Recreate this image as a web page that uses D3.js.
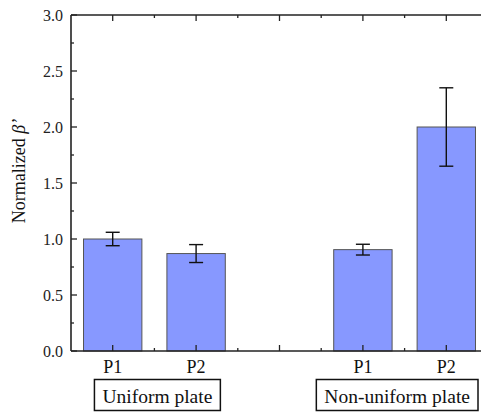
<!DOCTYPE html>
<html>
<head>
<meta charset="utf-8">
<script src="https://cdn.jsdelivr.net/npm/d3@7/dist/d3.min.js"></script>
<style>
  html, body { margin: 0; padding: 0; background: #fff; }
  svg text { font-family: "Liberation Serif", "DejaVu Serif", serif; }
</style>
</head>
<body>
<svg id="chart" width="481" height="412"></svg>
<script>
// Bar positions on the category axis (gap at 3 separates the two plates)
const positions = [1, 2, 4, 5];
const categories = ["P1", "P2", "P1", "P2"];
const values = [1.00, 0.87, 0.905, 2.00];
const errors = [0.06, 0.08, 0.048, 0.35];
const groups = ["Uniform plate", "Non-uniform plate"];
const groupMembers = [[1, 2], [4, 5]];
const yTicks = [0, 0.5, 1.0, 1.5, 2.0, 2.5, 3.0];

const W = 481, H = 412;
const svg = d3.select("#chart");

const x = d3.scaleLinear().domain([0.5, 5.5]).range([71, 488]);
const y = d3.scaleLinear().domain([0, 3]).range([351, 15]);

const barW = (x(1) - x(0)) * 0.7;
const axisColor = "#222";

// Bars
svg.append("g").selectAll("rect")
  .data(positions)
  .join("rect")
  .attr("x", (d) => x(d) - barW / 2)
  .attr("y", (d, i) => y(values[i]))
  .attr("width", barW)
  .attr("height", (d, i) => y(0) - y(values[i]))
  .attr("fill", "#8798ff")
  .attr("stroke", "#555")
  .attr("stroke-width", 1);

// Error bars
const eb = svg.append("g").attr("stroke", "#111").attr("stroke-width", 1.4);
positions.forEach((p, i) => {
  const cx = x(p), lo = y(values[i] - errors[i]), hi = y(values[i] + errors[i]);
  eb.append("line").attr("x1", cx).attr("x2", cx).attr("y1", lo).attr("y2", hi);
  eb.append("line").attr("x1", cx - 7).attr("x2", cx + 7).attr("y1", lo).attr("y2", lo);
  eb.append("line").attr("x1", cx - 7).attr("x2", cx + 7).attr("y1", hi).attr("y2", hi);
});

// Frame lines (left, bottom, top)
const frame = svg.append("g").attr("stroke", axisColor).attr("stroke-width", 1.6);
frame.append("line").attr("x1", x(0.5)).attr("x2", x(0.5)).attr("y1", y(3)).attr("y2", y(0));
frame.append("line").attr("x1", x(0.5)).attr("x2", x(5.5)).attr("y1", y(0)).attr("y2", y(0));
frame.append("line").attr("x1", x(0.5)).attr("x2", x(5.5)).attr("y1", y(3)).attr("y2", y(3));

// Y ticks (inward), major every 0.5 and minor every 0.25
const yt = svg.append("g").attr("stroke", axisColor).attr("stroke-width", 1.3);
d3.range(0, 3.001, 0.25).forEach((v) => {
  const major = Math.abs(v * 2 - Math.round(v * 2)) < 1e-6;
  yt.append("line").attr("x1", x(0.5)).attr("x2", x(0.5) + (major ? 6 : 3))
    .attr("y1", y(v)).attr("y2", y(v));
});
svg.append("g").selectAll("text")
  .data(yTicks)
  .join("text")
  .attr("x", x(0.5) - 8)
  .attr("y", (d) => y(d))
  .attr("dy", "0.35em")
  .attr("text-anchor", "end")
  .attr("font-size", 16)
  .attr("fill", "#222")
  .text((d) => d3.format(".1f")(d));

// X ticks (inward) on bottom and top
const xt = svg.append("g").attr("stroke", axisColor).attr("stroke-width", 1.3);
d3.range(1, 5.01, 0.5).forEach((v) => {
  const major = Number.isInteger(v);
  const len = major ? 6 : 3;
  xt.append("line").attr("x1", x(v)).attr("x2", x(v)).attr("y1", y(0)).attr("y2", y(0) - len);
  xt.append("line").attr("x1", x(v)).attr("x2", x(v)).attr("y1", y(3)).attr("y2", y(3) + len);
});

// Category labels
svg.append("g").selectAll("text")
  .data(positions)
  .join("text")
  .attr("x", (d) => x(d))
  .attr("y", 373)
  .attr("text-anchor", "middle")
  .attr("font-size", 18)
  .attr("fill", "#111")
  .text((d, i) => categories[i]);

// Group boxes, centred slightly right of their pair of bars
groups.forEach((g, gi) => {
  const mid = (x(groupMembers[gi][0]) + x(groupMembers[gi][1])) / 2 + 3;
  const box = svg.append("g");
  const rect = box.append("rect");
  const t = box.append("text")
    .attr("x", mid)
    .attr("y", 403)
    .attr("text-anchor", "middle")
    .attr("font-size", 19.5)
    .attr("fill", "#111")
    .text(g);
  const w = t.node().getBBox().width + 16;
  let left = mid - w / 2;
  if (left + w > W - 3) left = W - 3 - w;
  t.attr("x", left + w / 2);
  rect.attr("x", left).attr("y", 379.5)
    .attr("width", w).attr("height", 31)
    .attr("fill", "none").attr("stroke", "#111").attr("stroke-width", 1.5);
});

// Y axis title
const title = svg.append("text")
  .attr("transform", `translate(25,${(y(3) + y(0)) / 2 - 12}) rotate(-90)`)
  .attr("text-anchor", "middle")
  .attr("font-size", 18)
  .attr("fill", "#111");
title.append("tspan").text("Normalized ");
title.append("tspan").attr("font-style", "italic").text("β’");
</script>
</body>
</html>
